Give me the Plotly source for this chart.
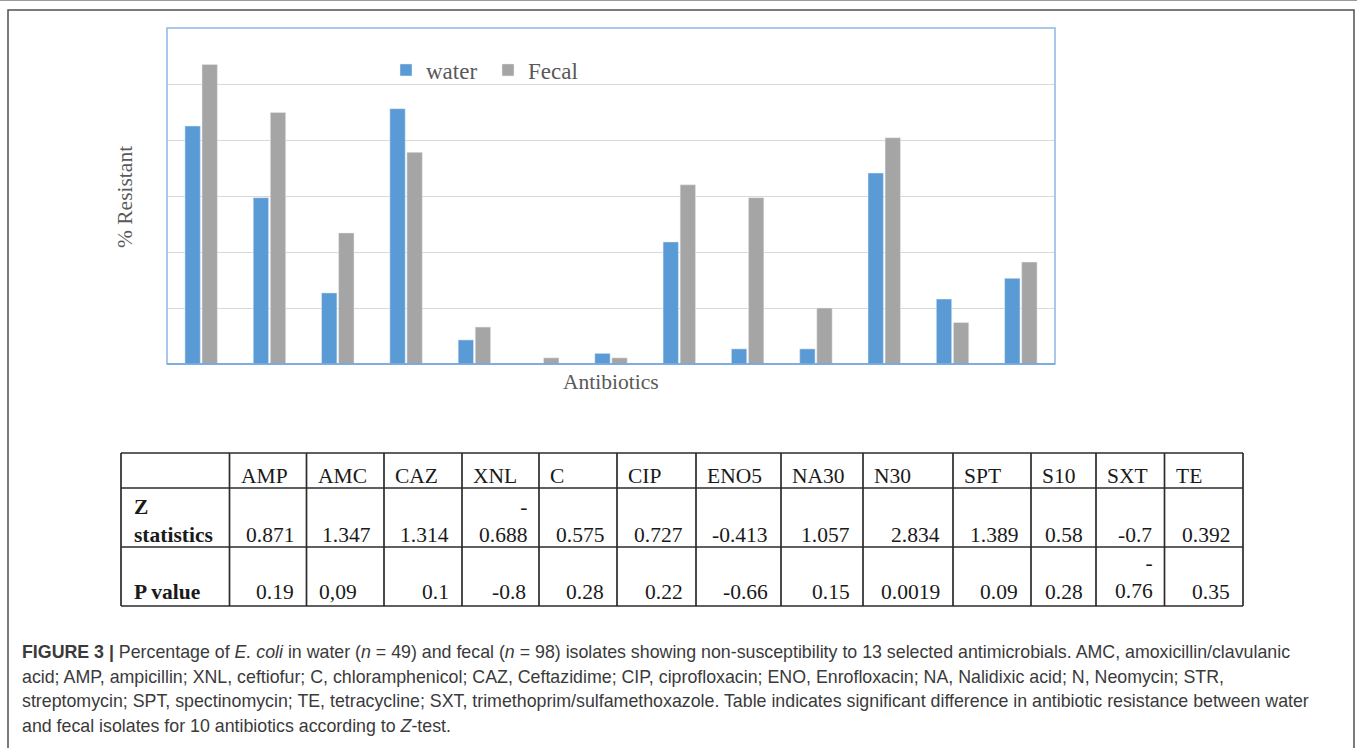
import plotly.graph_objects as go

# ---------------- data ----------------
antibiotics = ["AMP", "AMC", "CAZ", "XNL", "C", "CIP", "ENO5", "NA30", "N30", "SPT", "S10", "SXT", "TE"]
water_pct = [42.5, 29.7, 12.7, 45.6, 4.3, 0.0, 1.9, 21.8, 2.7, 2.7, 34.1, 11.6, 15.3]
fecal_pct = [53.5, 44.9, 23.4, 37.8, 6.6, 1.1, 1.1, 32.0, 29.7, 10.0, 40.4, 7.4, 18.2]

z_statistics = ["0.871", "1.347", "1.314", "-0.688", "0.575", "0.727", "-0.413",
                "1.057", "2.834", "1.389", "0.58", "-0.7", "0.392"]
p_values = ["0.19", "0,09", "0.1", "-0.8", "0.28", "0.22", "-0.66",
            "0.15", "0.0019", "0.09", "0.28", "-0.76", "0.35"]

caption_lines = [
    "<b>FIGURE 3 |</b> Percentage of <i>E. coli</i> in water (<i>n</i> = 49) and fecal (<i>n</i> = 98) isolates showing non-susceptibility to 13 selected antimicrobials. AMC, amoxicillin/clavulanic",
    "acid; AMP, ampicillin; XNL, ceftiofur; C, chloramphenicol; CAZ, Ceftazidime; CIP, ciprofloxacin; ENO, Enrofloxacin; NA, Nalidixic acid; N, Neomycin; STR,",
    "streptomycin; SPT, spectinomycin; TE, tetracycline; SXT, trimethoprim/sulfamethoxazole. Table indicates significant difference in antibiotic resistance between water",
    "and fecal isolates for 10 antibiotics according to <i>Z</i>-test.",
]

# ---------------- layout constants (pixels) ----------------
W, H = 1357, 748
PLOT_L, PLOT_R, PLOT_T, PLOT_B = 167, 1055, 28, 364
COL_EDGES = [121, 229.5, 306.5, 384, 462, 539, 617, 696, 781, 863, 953, 1031, 1096, 1164.5, 1243]
ROW_EDGES = [453, 488, 547, 606]
WRAPPED = {("z", 3), ("p", 11)}
LEFT_ALIGNED = {("p", 1)}

SERIF = "Liberation Serif"
SANS = "Liberation Sans"
BLUE = "#5B9BD5"
GREY = "#A5A5A5"
TXT = "#595959"


def px(x):
    return x / W


def py(y):
    return 1 - y / H


fig = go.Figure()
fig.add_trace(go.Bar(name="water", x=antibiotics, y=water_pct, marker_color=BLUE))
fig.add_trace(go.Bar(name="Fecal", x=antibiotics, y=fecal_pct, marker_color=GREY))

shapes = []
annotations = []

# outer frame
shapes.append(dict(type="line", xref="paper", yref="paper", x0=0, x1=1, y0=py(0.5), y1=py(0.5),
                   line=dict(color="#9a9a9a", width=1)))
shapes.append(dict(type="rect", xref="paper", yref="paper", x0=px(8), x1=px(1354), y0=py(10), y1=py(770),
                   line=dict(color="#505050", width=1.5)))
# plot border
shapes.append(dict(type="rect", xref="paper", yref="paper", x0=px(PLOT_L), x1=px(PLOT_R),
                   y0=py(PLOT_B), y1=py(PLOT_T), line=dict(color="#8DB7E3", width=1.5)))
shapes.append(dict(type="line", xref="paper", yref="paper", x0=px(PLOT_L), x1=px(PLOT_R),
                   y0=py(PLOT_B), y1=py(PLOT_B), line=dict(color="#6FA6DA", width=1.5)))

# axis titles
annotations.append(dict(text="% Resistant", x=px(125), y=py(197), xref="paper", yref="paper",
                        xanchor="center", yanchor="middle",
                        showarrow=False, textangle=-90, font=dict(family=SERIF, size=21.5, color=TXT)))
annotations.append(dict(text="Antibiotics", x=px(611), y=py(382), xref="paper", yref="paper",
                        xanchor="center", yanchor="middle",
                        showarrow=False, font=dict(family=SERIF, size=21.5, color=TXT)))

# table lines
for yv in ROW_EDGES:
    shapes.append(dict(type="line", xref="paper", yref="paper", x0=px(COL_EDGES[0]), x1=px(COL_EDGES[-1]),
                       y0=py(yv), y1=py(yv), line=dict(color="#2b2b2b", width=1.7)))
for xv in COL_EDGES:
    shapes.append(dict(type="line", xref="paper", yref="paper", x0=px(xv), x1=px(xv),
                       y0=py(ROW_EDGES[0]), y1=py(ROW_EDGES[-1]), line=dict(color="#2b2b2b", width=1.7)))

TF = dict(family=SERIF, size=21.5, color="#1a1a1a")

# header
for i, name in enumerate(antibiotics):
    annotations.append(dict(text=name, x=px(COL_EDGES[i + 1] + 9), y=py(476), xref="paper", yref="paper",
                            xanchor="left", yanchor="middle", showarrow=False, font=TF))
# row labels
annotations.append(dict(text="<b>Z</b><br><b>statistics</b>", x=px(COL_EDGES[0] + 11), y=py(521),
                        xref="paper", yref="paper", xanchor="left", yanchor="middle", align="left",
                        showarrow=False, font=TF))
annotations.append(dict(text="<b>P value</b>", x=px(COL_EDGES[0] + 11), y=py(591.5),
                        xref="paper", yref="paper", xanchor="left", yanchor="middle", align="left",
                        showarrow=False, font=TF))


def cell(row, i, val, y_single, y_wrapped):
    right = COL_EDGES[i + 2]
    left = COL_EDGES[i + 1]
    if (row, i) in WRAPPED:
        txt = val[0] + "<br>" + val[1:]
        annotations.append(dict(text=txt, x=px(right - 10), y=py(y_wrapped), xref="paper", yref="paper",
                                xanchor="right", yanchor="middle", align="right", showarrow=False, font=TF))
    elif (row, i) in LEFT_ALIGNED:
        annotations.append(dict(text=val, x=px(left + 10), y=py(y_single), xref="paper", yref="paper",
                                xanchor="left", yanchor="middle", showarrow=False, font=TF))
    else:
        annotations.append(dict(text=val, x=px(right - 11), y=py(y_single), xref="paper", yref="paper",
                                xanchor="right", yanchor="middle", showarrow=False, font=TF))


for i, v in enumerate(z_statistics):
    cell("z", i, v, 535, 521)
for i, v in enumerate(p_values):
    cell("p", i, v, 591.5, 577)

# caption
for k, line in enumerate(caption_lines):
    annotations.append(dict(text=line, x=px(20), y=py(652 + 24.5 * k), xref="paper", yref="paper",
                            xanchor="left", yanchor="middle", align="left", showarrow=False,
                            font=dict(family=SANS, size=17.8, color="#3a3a3a")))

fig.update_layout(
    width=W, height=H,
    margin=dict(l=0, r=0, t=0, b=0),
    paper_bgcolor="white", plot_bgcolor="white",
    barmode="group", bargap=0.5, bargroupgap=0.1,
    xaxis=dict(domain=[px(PLOT_L), px(PLOT_R)], showticklabels=False, showgrid=False,
               zeroline=False, showline=False, ticks=""),
    yaxis=dict(domain=[py(PLOT_B), py(PLOT_T)], range=[0, 60], dtick=10, showticklabels=False,
               showgrid=True, gridcolor="#D9D9D9", gridwidth=1, zeroline=False, showline=False, ticks=""),
    showlegend=True,
    legend=dict(orientation="h", x=px(386), y=py(70), xanchor="left", yanchor="middle",
                font=dict(family=SERIF, size=23, color=TXT), bgcolor="rgba(0,0,0,0)",
                itemwidth=30, entrywidth=57, entrywidthmode="pixels"),
    shapes=shapes,
    annotations=annotations,
)

fig.write_html("out.html", config={"displayModeBar": False},
               post_script="document.body.style.margin='0';document.body.style.overflow='hidden';")
